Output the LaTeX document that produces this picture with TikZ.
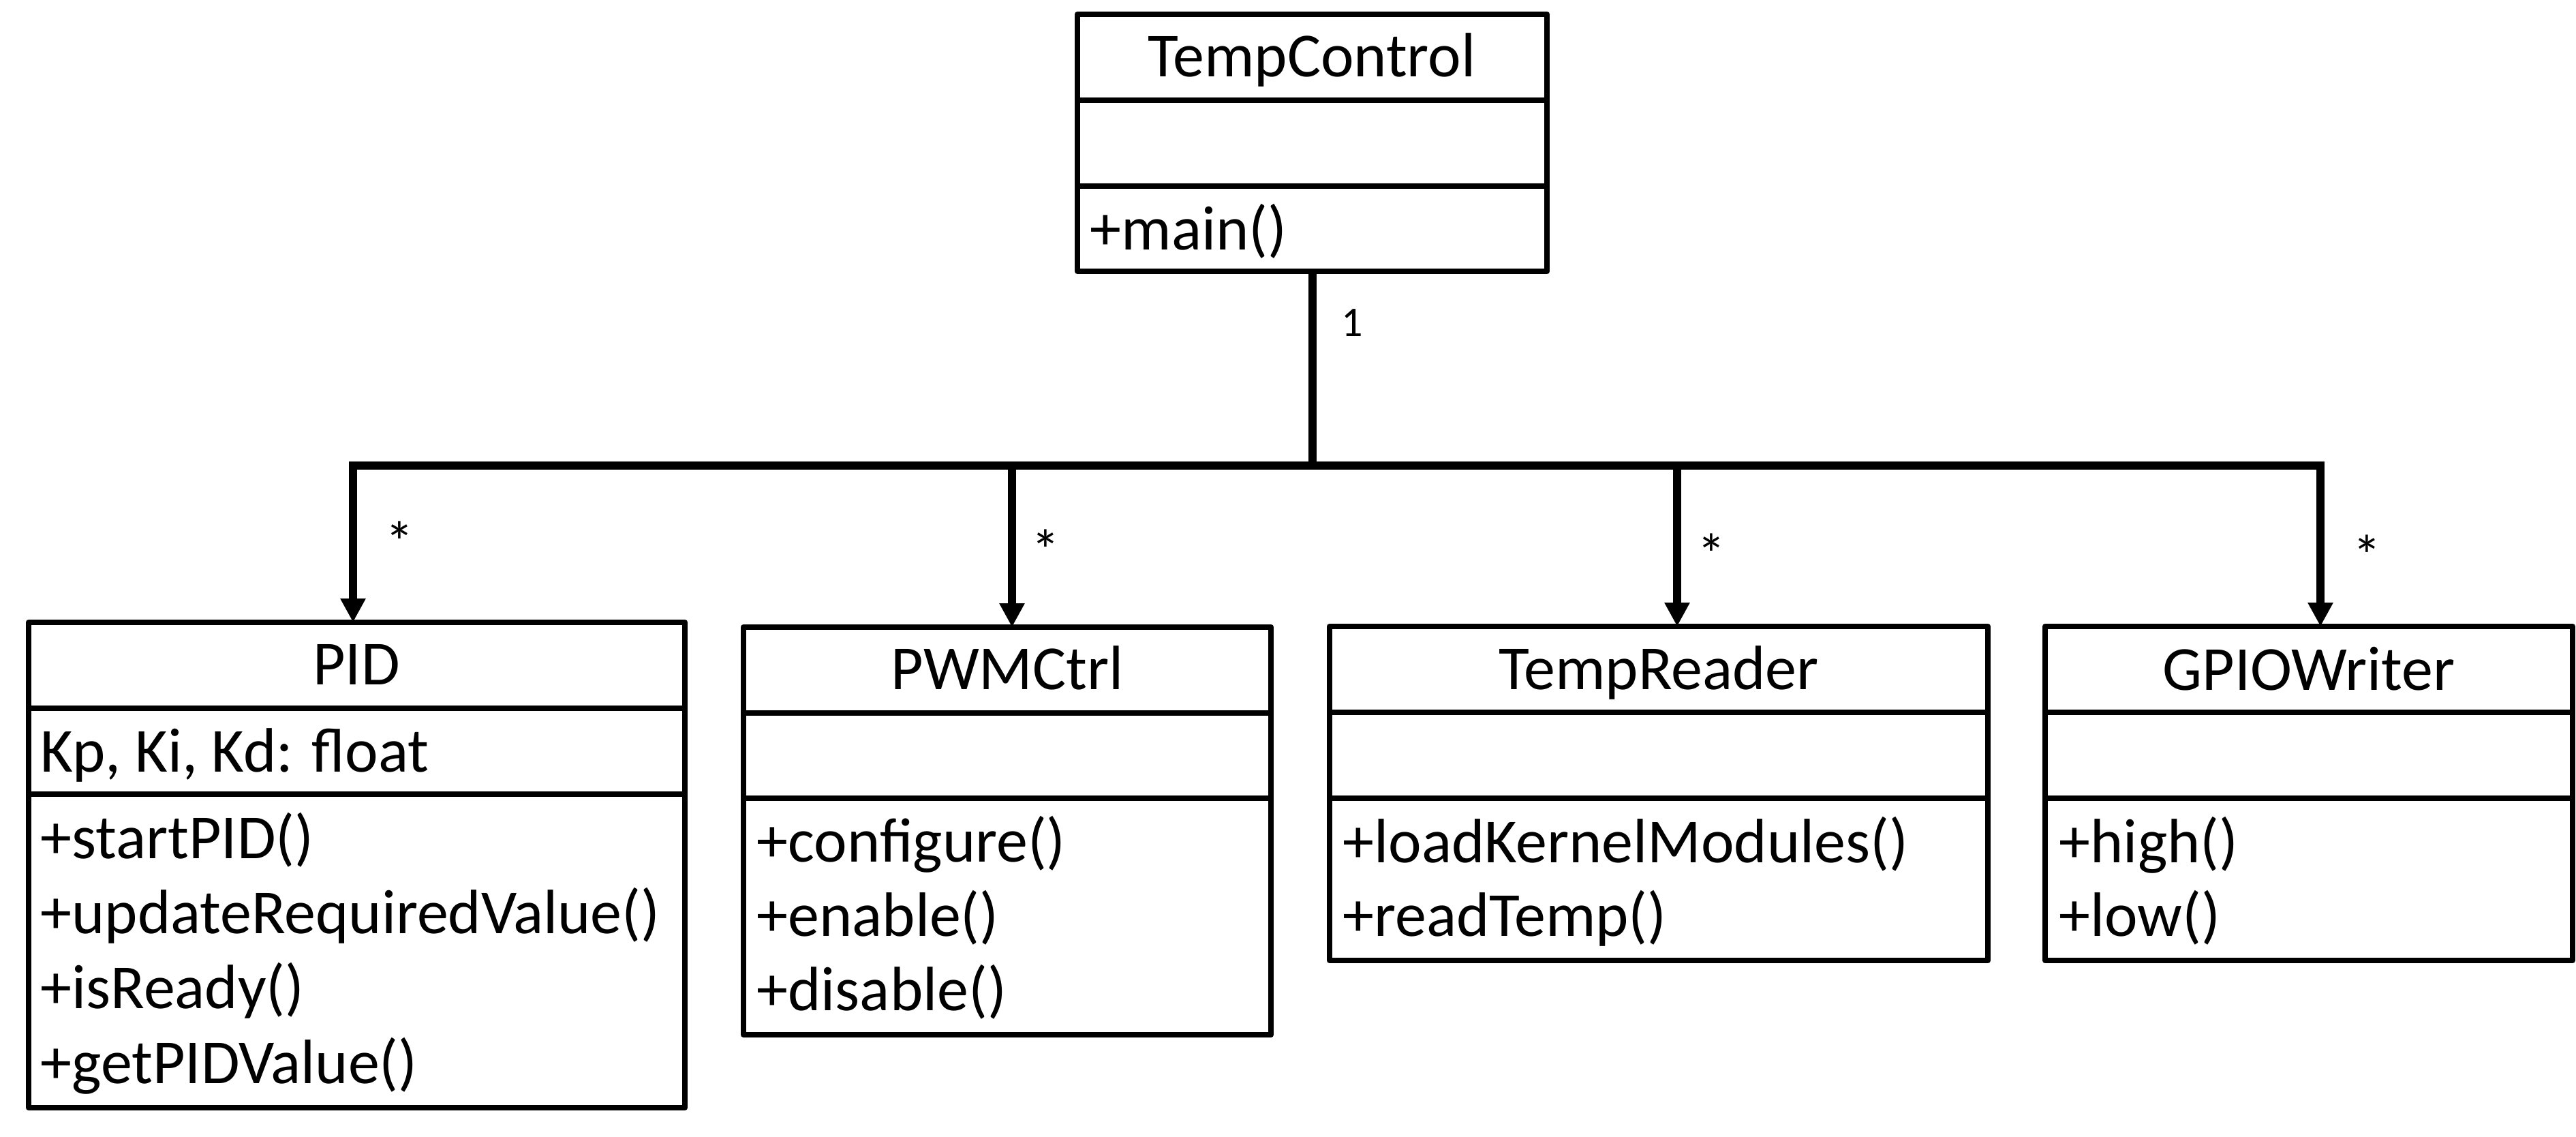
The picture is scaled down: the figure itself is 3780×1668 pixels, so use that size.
\documentclass[tikz,border=0pt]{standalone}
\usepackage{fontspec}
\setmainfont{Carlito}
\usetikzlibrary{arrows.meta,calc}
\begin{document}
\begin{tikzpicture}[x=0.25pt,y=-0.25pt,
  cbox/.style={draw,line width=2.1pt,line join=round,rectangle,outer sep=0pt,inner sep=0pt,anchor=north west},
  divline/.style={line width=2.1pt},
  conn/.style={line width=3pt},
  busline/.style={line width=3pt,line cap=rect},
  arr/.style={line width=3pt,-{Triangle[length=8.75pt,width=8.75pt]}},
  title/.style={font=\fontsize{23pt}{27pt}\selectfont,anchor=base,inner sep=0pt},
  member/.style={font=\fontsize{23pt}{27pt}\selectfont,anchor=base west,inner sep=0pt},
  mult/.style={font=\fontsize{15.5pt}{18pt}\selectfont,anchor=base,inner sep=0pt},
  star/.style={font=\fontsize{21pt}{24pt}\selectfont,anchor=base,inner sep=0pt}]
\useasboundingbox (0,0) rectangle (3780,1668);

% ---- class boxes ----
\node[cbox,minimum width=172.25pt,minimum height=94.25pt] (tc) at (1581,21) {};
\node[cbox,minimum width=240.75pt,minimum height=178pt] (pid) at (42,913) {};
\node[cbox,minimum width=193.5pt,minimum height=149.5pt] (pwm) at (1091,920) {};
\node[cbox,minimum width=241.5pt,minimum height=122.5pt] (tr) at (1951,919) {};
\node[cbox,minimum width=193.5pt,minimum height=122.5pt] (gpio) at (3001,919) {};

% ---- compartment dividers ----
\draw[divline] ($(tc.north west)+(0,126)$) -- ($(tc.north east)+(0,126)$);
\draw[divline] ($(tc.north west)+(0,252)$) -- ($(tc.north east)+(0,252)$);
\draw[divline] ($(pid.north west)+(0,126)$) -- ($(pid.north east)+(0,126)$);
\draw[divline] ($(pid.north west)+(0,252)$) -- ($(pid.north east)+(0,252)$);
\draw[divline] ($(pwm.north west)+(0,126)$) -- ($(pwm.north east)+(0,126)$);
\draw[divline] ($(pwm.north west)+(0,251)$) -- ($(pwm.north east)+(0,251)$);
\draw[divline] ($(tr.north west)+(0,126)$) -- ($(tr.north east)+(0,126)$);
\draw[divline] ($(tr.north west)+(0,252)$) -- ($(tr.north east)+(0,252)$);
\draw[divline] ($(gpio.north west)+(0,126)$) -- ($(gpio.north east)+(0,126)$);
\draw[divline] ($(gpio.north west)+(0,252)$) -- ($(gpio.north east)+(0,252)$);

% ---- texts ----
\node[title] (tct) at (1925,113) {TempControl};
\node[member] (tcm1) at (1599,367) {+main()};

\node[title] (pidt) at (523,1004) {PID};
\node[member] (pida1) at (59,1132) {Kp, Ki, Kd: float};
\node[member] (pidm1) at (59,1259) {+startPID()};
\node[member] (pidm2) at (59,1369) {+updateRequiredValue()};
\node[member] (pidm3) at (59,1479) {+isReady()};
\node[member] (pidm4) at (59,1589) {+getPIDValue()};

\node[title] (pwmt) at (1478,1011) {PWMCtrl};
\node[member] (pwmm1) at (1110,1264) {+configure()};
\node[member] (pwmm2) at (1110,1373) {+enable()};
\node[member] (pwmm3) at (1110,1482) {+disable()};

\node[title] (trt) at (2434,1011) {TempReader};
\node[member] (trm1) at (1970,1265) {+loadKernelModules()};
\node[member] (trm2) at (1970,1373) {+readTemp()};

\node[title] (gpiot) at (3388,1012) {GPIOWriter};
\node[member] (gpiom1) at (3021,1265) {+high()};
\node[member] (gpiom2) at (3021,1373) {+low()};

% ---- connectors ----
\coordinate (busL) at (518,683);
\coordinate (busR) at (3405,683);
\coordinate (tapPWM) at (1485,683);
\coordinate (tapTR) at (2461,683);
\draw[busline] (busL) -- (busR);
\draw[conn] (tc.south) -- (tc.south |- busL);
\draw[arr] (busL) -- (busL |- pid.north);
\draw[arr] (tapPWM) -- (tapPWM |- pwm.north);
\draw[arr] (tapTR) -- (tapTR |- tr.north);
\draw[arr] (busR) -- (busR |- gpio.north);

% ---- multiplicities ----
\node[mult] (m1) at (1984,494) {1};
\node[star] (mpid) at (586,824) {*};
\node[star] (mpwm) at (1534,836) {*};
\node[star] (mtr) at (2511,842) {*};
\node[star] (mgpio) at (3473,844) {*};
\end{tikzpicture}
\end{document}
